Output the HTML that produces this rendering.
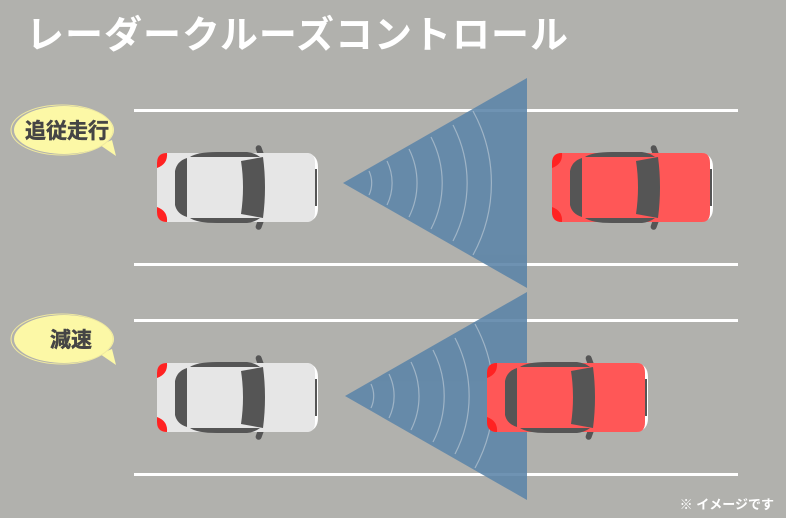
<!DOCTYPE html>
<html><head><meta charset="utf-8"><style>
html,body{margin:0;padding:0;background:#b1b1ad;}
svg{display:block;}
text{font-family:"Liberation Sans","Noto Sans CJK JP",sans-serif;font-weight:bold;}
</style></head><body>
<svg width="786" height="518" viewBox="0 0 786 518" xmlns="http://www.w3.org/2000/svg">
<defs>
<g id="car">
  <rect x="100" y="-8" width="6" height="14" rx="3" fill="#555" transform="rotate(-20 103 -1)"/>
  <rect x="100" y="63" width="6" height="14" rx="3" fill="#555" transform="rotate(20 103 70)"/>
  <path d="M150,0 Q161,2 161,14 L161,55 Q161,67 150,69 Z" fill="#fff"/>
  <rect x="151" y="16" width="9" height="37" fill="#555"/>
</g>
<g id="cbody">
  <path d="M10,0 L150,0 Q158,0 158,10 L158,59 Q158,69 150,69 L10,69 Q0,69 0,58 L0,11 Q0,0 10,0 Z"/>
</g>
<g id="detail">
  <path d="M0,15 L0,10 Q0,0 10,0 Q11,11 0,15 Z" fill="#f22"/>
  <path d="M0,54 L0,59 Q0,69 10,69 Q11,58 0,54 Z" fill="#f22"/>
  <path d="M30,5 Q20,8 18,18 L18,52 Q20,61 30,64 Z" fill="#555"/>
  <path d="M33,4 Q40,-1 60,-1 L90,-1 Q98,0 103,4 Z" fill="#555"/>
  <path d="M33,65 Q40,70 60,70 L90,70 Q98,69 103,65 Z" fill="#555"/>
  <path d="M84,8 L106,4 Q110,34 106,65 L84,61 Q88,34 84,8 Z" fill="#555"/>
</g>
</defs>
<rect width="786" height="518" fill="#b1b1ad"/>
<g fill="#fff">
<rect x="134" y="109" width="604" height="3"/>
<rect x="134" y="263" width="604" height="3"/>
<rect x="134" y="319" width="604" height="3"/>
<rect x="134" y="473" width="604" height="3"/>
</g>
<text x="26" y="48" font-size="38" fill="#fff" letter-spacing="1">レーダークルーズコントロール</text>

<g opacity="0.88">
<polygon points="343,183 527,78 527,288" fill="#5b84a8"/>
<polygon points="345,396 527,292 527,500" fill="#5b84a8"/>
</g>
<g fill="none" stroke="#9fb4c6" stroke-width="1.2">
<g transform="translate(343,183)">
<path d="M26,-12 A28,28 0 0 1 26,12"/><path d="M44,-22 A50,50 0 0 1 44,22"/><path d="M66,-34 A76,76 0 0 1 66,34"/><path d="M88,-46 A100,100 0 0 1 88,46"/><path d="M110,-58 A126,126 0 0 1 110,58"/><path d="M130,-72 A150,150 0 0 1 130,72"/>
</g>
<g transform="translate(345,396)">
<path d="M26,-12 A28,28 0 0 1 26,12"/><path d="M44,-22 A50,50 0 0 1 44,22"/><path d="M66,-34 A76,76 0 0 1 66,34"/><path d="M88,-46 A100,100 0 0 1 88,46"/><path d="M110,-58 A126,126 0 0 1 110,58"/><path d="M130,-72 A150,150 0 0 1 130,72"/>
</g>
</g>

<g transform="translate(157,153)"><use href="#car"/><use href="#cbody" fill="#e6e6e6"/><use href="#detail"/></g>
<g transform="translate(157,363)"><use href="#car"/><use href="#cbody" fill="#e6e6e6"/><use href="#detail"/></g>
<g transform="translate(552,153)"><use href="#car"/><use href="#cbody" fill="#ff5757"/><use href="#detail"/></g>
<g transform="translate(487,363)"><use href="#car"/><use href="#cbody" fill="#ff5757"/><use href="#detail"/></g>

<g>
<ellipse cx="64" cy="130" rx="50" ry="24" fill="#fcf8a6"/>
<path d="M100,145 L116,156 L112,140 Z" fill="#fcf8a6"/>
<ellipse cx="62" cy="130" rx="51" ry="25" fill="none" stroke="#efe9a0" stroke-width="1"/>
<text x="67" y="138" font-size="21" fill="#454545" text-anchor="middle" stroke="#454545" stroke-width="0.5">追従走行</text>
<ellipse cx="64" cy="339" rx="50" ry="24" fill="#fcf8a6"/>
<path d="M100,354 L116,365 L112,349 Z" fill="#fcf8a6"/>
<ellipse cx="62" cy="339" rx="51" ry="25" fill="none" stroke="#efe9a0" stroke-width="1"/>
<text x="71" y="347" font-size="21" fill="#454545" text-anchor="middle" stroke="#454545" stroke-width="0.5">減速</text>
</g>
<text x="774" y="509" font-size="13" fill="#fff" text-anchor="end">※ イメージです</text>
</svg>
</body></html>
